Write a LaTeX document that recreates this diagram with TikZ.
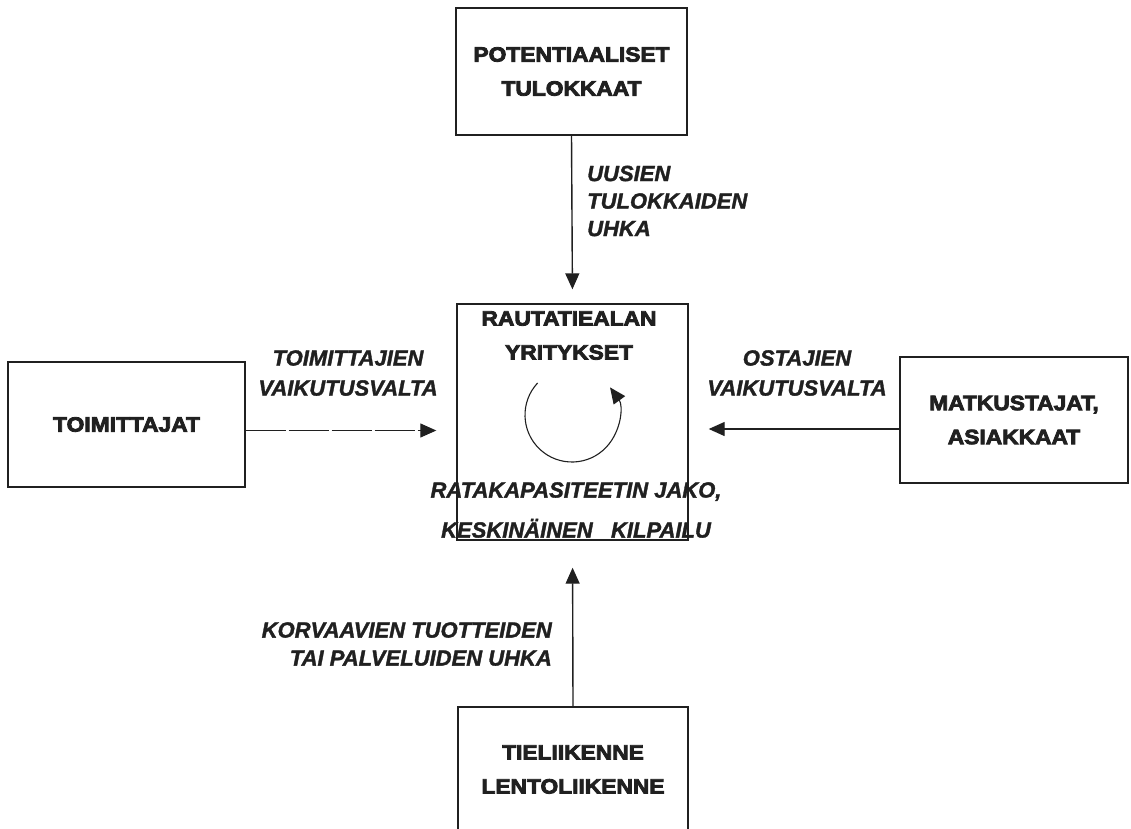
\documentclass[tikz,border=0pt]{standalone}
\usepackage{fontspec}
\setmainfont{Liberation Sans}
\newfontfamily\heavy{Liberation Sans Bold}[FakeBold=4,FakeStretch=1.1]
\newfontfamily\lab{Liberation Sans Bold Italic}[FakeBold=1.5]
\usetikzlibrary{arrows.meta}
\definecolor{ink}{RGB}{32,32,32}
\begin{document}
\begin{tikzpicture}[x=1pt,y=-1pt,
  box/.style={draw=ink, line width=1.4pt, inner sep=0pt, align=center, text=ink,
              font=\heavy\fontsize{20.7}{34}\selectfont},
  boxtext/.style={inner sep=0pt, align=center, text=ink,
              font=\heavy\fontsize{20.7}{34}\selectfont},
  lbl/.style={inner sep=0pt, text=ink, font=\lab\fontsize{22}{27.5}\selectfont},
  arr/.style={draw=ink, line width=1.4pt, -{Triangle[length=16pt,width=14pt]}}
]
\useasboundingbox (0,0) rectangle (1131,828);
\fill[white] (0,0) rectangle (1131,828);

% boxes
\node[box, minimum width=231pt, minimum height=127pt] (entr) at (571.5,71.5)
  {POTENTIAALISET\\TULOKKAAT};
\node[box, minimum width=231pt, minimum height=236pt] (firm) at (572.5,422) {};
\node[box, minimum width=237pt, minimum height=125pt] (supp) at (126.5,424.5)
  {TOIMITTAJAT};
\node[box, minimum width=228pt, minimum height=126pt] (buy) at (1014,420)
  {MATKUSTAJAT,\\ASIAKKAAT};
\node[box, minimum width=230pt, minimum height=125pt] (subs) at (573,769.5)
  {TIELIIKENNE\\LENTOLIIKENNE};

% contents of central box
\node[boxtext] (title) at (569,335.5) {RAUTATIEALAN\\YRITYKSET};
\coordinate (cc) at (572,415);
\draw[draw=ink, line width=1.1pt, -{Triangle[length=16pt,width=14pt]}]
  (cc) ++(-137:47) arc[start angle=-137, end angle=-396, radius=47];
\node[lbl, align=center, font=\lab\fontsize{22}{40}\selectfont] (comp) at (576,510)
  {RATAKAPASITEETIN JAKO,\\KESKIN\"AINEN\ \ \ KILPAILU};

% connectors
\draw[arr, shorten >=14pt] (entr.south) -- (firm.north);
\draw[arr, shorten >=20pt, dash pattern=on 40pt off 3pt, line width=1.2pt]
  ([yshift=-6pt]supp.east) -- ([yshift=-6pt]supp.east -| firm.west);
\draw[arr, shorten >=20pt] ([yshift=-9pt]buy.west) -- ([yshift=-9pt]buy.west -| firm.east);
\draw[arr, shorten >=27pt] (subs.north) -- (firm.south);

% labels
\node[lbl, align=left, anchor=west] (lnew) at (587,201)
  {UUSIEN\\TULOKKAIDEN\\UHKA};
\node[lbl, align=center, font=\lab\fontsize{22}{30}\selectfont] (lsupp) at (348,373)
  {TOIMITTAJIEN\\VAIKUTUSVALTA};
\node[lbl, align=center, font=\lab\fontsize{22}{30}\selectfont] (lbuy) at (797,373)
  {OSTAJIEN\\VAIKUTUSVALTA};
\node[lbl, align=right, anchor=east, font=\lab\fontsize{22}{28}\selectfont] (lsubs) at (552,644)
  {KORVAAVIEN TUOTTEIDEN\\TAI PALVELUIDEN UHKA};
\end{tikzpicture}
\end{document}
